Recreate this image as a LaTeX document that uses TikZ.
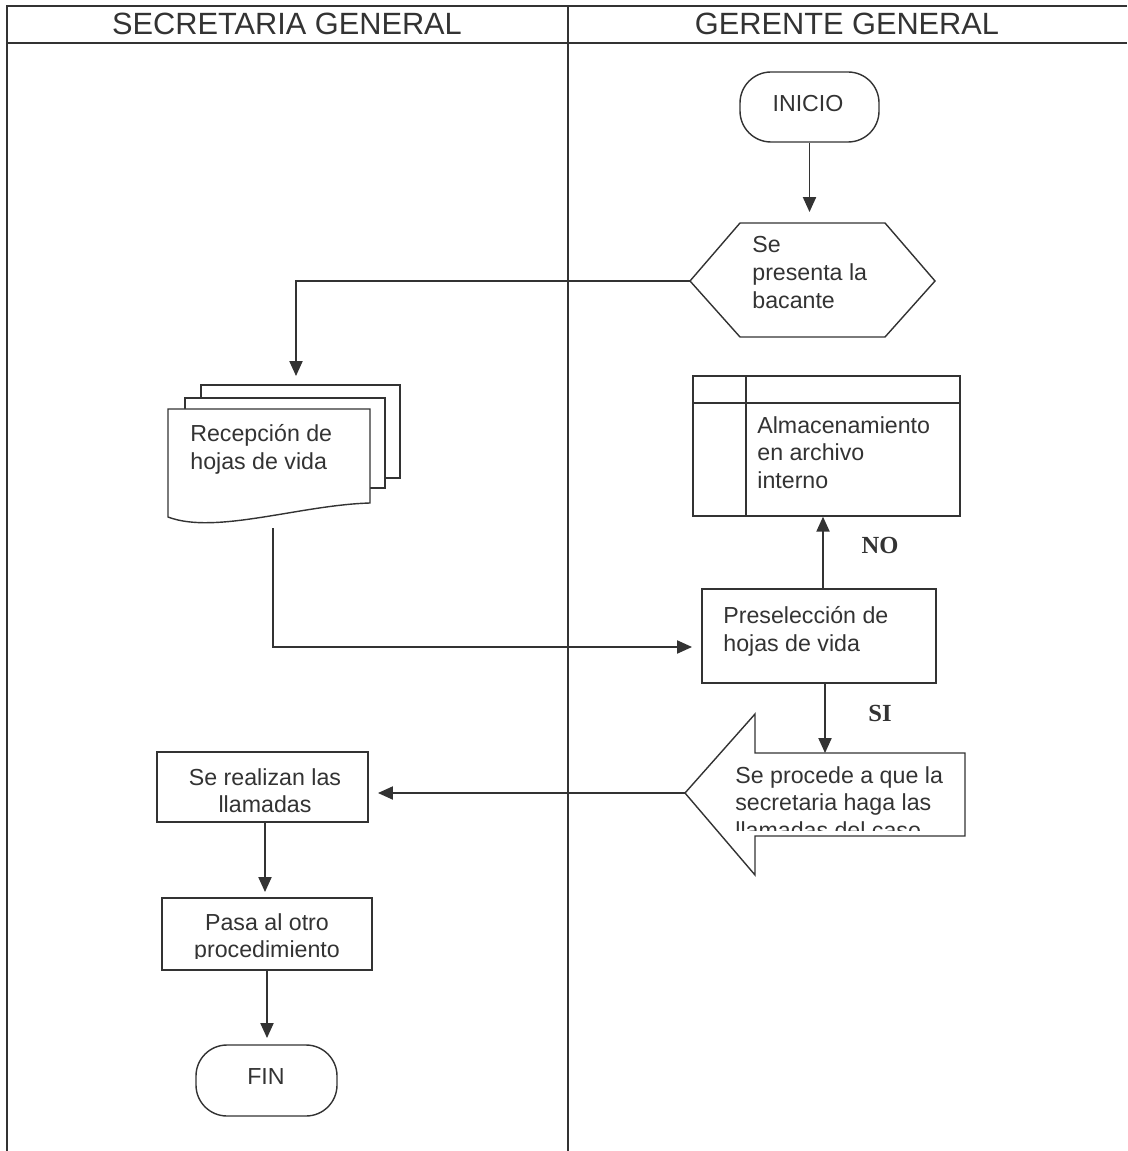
\documentclass[tikz,border=0pt]{standalone}
\usepackage{fontspec}
\setmainfont{Liberation Sans}
\newfontfamily\serifbold{Liberation Serif}
\usetikzlibrary{arrows.meta,fit}
\definecolor{ink}{HTML}{333333}
\newcommand{\bodyfont}{\fontsize{13.2}{15.8}\selectfont}
\newcommand{\headfont}{\fontsize{17.5}{21}\selectfont}
\newcommand{\answerfont}{\serifbold\bfseries\fontsize{14}{16}\selectfont}

\tikzset{
  frameline/.style={draw=ink, line width=1.2pt},
  outline/.style={draw=ink, line width=0.8pt},
  flow/.style={draw=ink, line width=0.8pt, -{Triangle[length=8.5pt,width=7.5pt]}},
  box/.style={outline, fill=white, inner sep=0pt},
  terminal/.style={box, rounded corners=0.62cm},
  txt/.style={font=\bodyfont, text=ink, inner sep=0pt, align=left, anchor=north west},
  ctxt/.style={font=\bodyfont, text=ink, inner sep=0pt, align=center, anchor=north},
  ttxt/.style={font=\bodyfont, text=ink, inner sep=0pt},
  head/.style={font=\headfont, text=ink, inner sep=0pt},
  answer/.style={font=\answerfont, text=ink, inner sep=0pt},
}

\begin{document}
\begin{tikzpicture}[x=0.02cm, y=-0.02cm]
\useasboundingbox (0,0) rectangle (1127,1151);

% swimlane frame and headers
\draw[frameline] (1127,6) -- (7,6) -- (7,1151);
\draw[frameline] (7,43) -- (1127,43);
\draw[frameline] (568,6) -- (568,1151);
\node[head] (laneA) at (287,24) {SECRETARIA GENERAL};
\node[head] (laneB) at (847,24) {GERENTE GENERAL};

% start
\node[terminal, fit={(740,72) (879,142)}] (inicio) {};
\node[ttxt] (inicioText) at (808,104) {INICIO};

% preparation (hexagon)
\coordinate (hW)  at (690,281);
\coordinate (hNW) at (740,223);
\coordinate (hNE) at (885,223);
\coordinate (hE)  at (935,281);
\coordinate (hSE) at (885,337);
\coordinate (hSW) at (740,337);
\coordinate (hIn) at (inicio.south |- 0,212);
\draw[outline] (hW) -- (hNW) -- (hNE) -- (hE) -- (hSE) -- (hSW) -- cycle;
\node[txt] (hexText) at (752,236) {Se\\presenta la\\bacante};

% multi-document
\draw[outline, fill=white] (201,385) rectangle (400,478);
\draw[outline, fill=white] (185,398) rectangle (385,488);
\draw[outline, fill=white] (168,409) -- (370,409) -- (370,503)
  .. controls (300,505) and (215,535) .. (168,517) -- cycle;
\node[txt] (docText) at (190,424) {Recepción de\\hojas de vida};
\coordinate (docIn)  at (296,376);
\coordinate (docOut) at (273,528);

% internal storage
\node[box, fit={(693,376) (960,516)}] (store) {};
\draw[outline] (store.west |- 0,403) -- (store.east |- 0,403);
\draw[outline] (store.north -| 746,0) -- (store.south -| 746,0);
\node[txt] (storeText) at (757,416) {Almacenamiento\\en archivo\\interno};

% pre-selection
\node[box, fit={(702,589) (936,683)}] (presel) {};
\node[txt] (preselText) at (723,606) {Preselección de\\hojas de vida};
\coordinate (preIn) at (692,647);

% block arrow pointing to the secretary's lane
\coordinate (bTip) at (685,793);
\coordinate (bTop) at (825,753);
\draw[outline] (bTip) -- (755,714) -- (755,753) -- (965,753) -- (965,836)
  -- (755,836) -- (755,875) -- cycle;
\begin{scope}
  \clip (600,700) rectangle (1000,830);
  \node[txt] (blockText) at (735,766) {Se procede a que la\\secretaria haga las\\llamadas del caso};
\end{scope}

% calls
\node[box, fit={(157,752) (368,822)}] (call) {};
\node[ctxt] (callText) at (265,768) {Se realizan las\\llamadas};
\coordinate (callIn) at (378,793);
\coordinate (pasaIn) at (265,892);

% next procedure
\node[box, fit={(162,898) (372,970)}] (pasa) {};
\begin{scope}
  \clip (pasa.north west) rectangle (372,958);
  \node[ctxt] (pasaText) at (267,913) {Pasa al otro\\procedimiento};
\end{scope}

% end
\node[terminal, fit={(196,1045) (337,1116)}] (fin) {};
\node[ttxt] (finText) at (266,1077) {FIN};
\coordinate (finIn) at (267,1038);

% connectors
\draw[flow] (inicio.south) -- (hIn);
\draw[flow] (hW) -| (docIn);
\draw[flow] (docOut) |- (preIn);
\draw[flow] (presel.north -| 823,0) -- (store.south -| 823,0);
\node[answer] (noLabel) at (880,545) {NO};
\draw[flow] (presel.south -| 825,0) -- (bTop);
\node[answer] (siLabel) at (880,713) {SI};
\draw[flow] (bTip) -- (callIn);
\draw[flow] (call.south -| 265,0) -- (pasaIn);
\draw[flow] (pasa.south -| 267,0) -- (finIn);
\end{tikzpicture}
\end{document}
